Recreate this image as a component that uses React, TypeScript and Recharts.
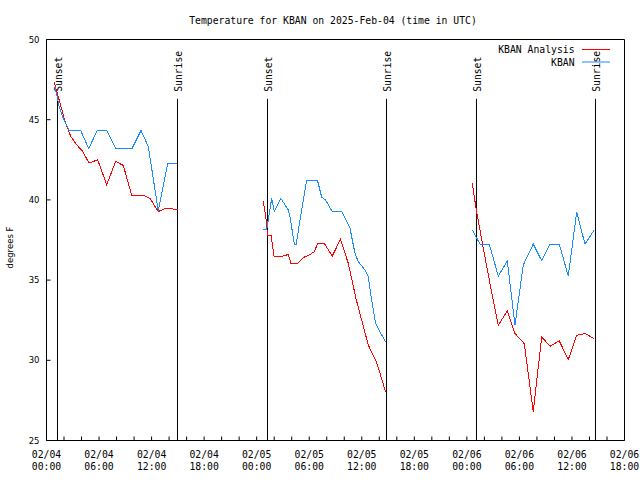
import React from 'react';
import { LineChart, Line, XAxis, YAxis, ReferenceLine, Legend } from 'recharts';

// ---- Data (hours since 02/04 00:00 UTC, temperature in degrees F) ----
const analysis1Hours = [0.891, 1.165, 1.541, 2.112, 2.763, 3.448, 4.133, 4.853, 5.846, 6.874, 7.901, 8.769, 9.728, 11.247, 11.818, 12.765, 13.336, 13.907, 14.958];
const analysis1Temps = [47.35, 46.77, 46.04, 44.9, 43.96, 43.44, 43.02, 42.29, 42.5, 40.94, 42.4, 42.15, 40.3, 40.25, 40.1, 39.27, 39.42, 39.48, 39.38];

const analysis2Hours = [24.755, 24.949, 25.143, 25.211, 25.634, 25.976, 27.038, 27.609, 27.917, 28.659, 29.322, 30.087, 30.601, 30.943, 31.72, 32.633, 33.569, 34.46, 35.339, 35.967, 36.744, 37.703, 38.274, 38.73];
const analysis2Temps = [39.9, 39.27, 38.54, 37.81, 37.81, 36.5, 36.5, 36.6, 36.04, 36.04, 36.4, 36.6, 36.77, 37.29, 37.29, 36.5, 37.55, 36.04, 33.85, 32.55, 30.95, 29.85, 28.85, 28.0];

const analysis3Hours = [48.618, 49.041, 49.874, 50.639, 51.587, 52.615, 53.494, 54.556, 55.583, 56.543, 57.49, 58.552, 59.58, 60.539, 61.487, 62.549];
const analysis3Temps = [41.08, 39.48, 36.98, 34.79, 32.19, 33.08, 31.67, 31.04, 26.8, 31.46, 30.875, 31.21, 30.04, 31.56, 31.67, 31.35];

const kban1Hours = [0.971, 1.427, 1.85, 2.603, 3.905, 4.818, 5.8, 6.874, 7.936, 9.763, 10.79, 11.624, 12.765, 13.839, 14.958];
const kban1Temps = [47.04, 45.88, 45.17, 44.33, 44.33, 43.2, 44.33, 44.33, 43.2, 43.2, 44.33, 43.33, 39.3, 42.29, 42.29];

const kban2Hours = [24.755, 25.143, 25.714, 26.01, 26.741, 27.609, 27.803, 28.294, 28.523, 28.945, 29.71, 30.943, 31.423, 31.857, 32.656, 33.741, 34.654, 35.225, 35.602, 36.367, 36.744, 37.132, 37.589, 38.079, 38.73];
const kban2Temps = [38.13, 38.13, 40.1, 39.27, 40.1, 39.38, 38.96, 37.25, 37.25, 38.75, 41.22, 41.22, 40.17, 40.0, 39.25, 39.25, 38.23, 36.67, 36.15, 35.63, 35.21, 33.75, 32.29, 31.77, 31.15];

const kban3Hours = [48.618, 49.498, 50.559, 51.587, 52.615, 53.494, 54.442, 55.583, 56.543, 57.49, 58.552, 59.58, 60.539, 61.487, 62.549];
const kban3Temps = [38.13, 37.25, 37.25, 35.25, 36.19, 32.19, 35.94, 37.25, 36.21, 37.25, 37.25, 35.25, 39.23, 37.25, 38.13];

const sunEventHours = [1.256, 14.958, 25.234, 38.822, 49.098, 62.686];
const sunEventNames = ['Sunset', 'Sunrise', 'Sunset', 'Sunrise', 'Sunset', 'Sunrise'];
const sunLineTop = 46.3;

const xTickHours = [0, 2, 4, 6, 8, 10, 12, 14, 16, 18, 20, 22, 24, 26, 28, 30, 32, 34, 36, 38, 40, 42, 44, 46, 48, 50, 52, 54, 56, 58, 60, 62, 64, 66];
const xLabelHours = [0, 6, 12, 18, 24, 30, 36, 42, 48, 54, 60, 66];
const xLabelDates = ['02/04', '02/04', '02/04', '02/04', '02/05', '02/05', '02/05', '02/05', '02/06', '02/06', '02/06', '02/06'];
const xLabelTimes = ['00:00', '06:00', '12:00', '18:00', '00:00', '06:00', '12:00', '18:00', '00:00', '06:00', '12:00', '18:00'];
const yTicks = [25, 30, 35, 40, 45, 50];

const legendNames = ['KBAN Analysis', 'KBAN'];
const legendColors = ['#ff0000', '#1a8cff'];
const titleText = 'Temperature for KBAN on 2025-Feb-04 (time in UTC)';
const yLabelText = 'degrees F';

const MONO = '"DejaVu Sans Mono", monospace';
const SANS = '"DejaVu Sans", sans-serif';

const toPoints = (hours: number[], temps: number[]) => hours.map((h, i) => ({ h, t: temps[i] }));

const analysisSegments = [
  toPoints(analysis1Hours, analysis1Temps),
  toPoints(analysis2Hours, analysis2Temps),
  toPoints(analysis3Hours, analysis3Temps),
];
const kbanSegments = [
  toPoints(kban1Hours, kban1Temps),
  toPoints(kban2Hours, kban2Temps),
  toPoints(kban3Hours, kban3Temps),
];

const XTick = (props: any) => {
  const { x, y, payload } = props;
  const idx = xLabelHours.indexOf(payload.value);
  return (
    <g>
      <line x1={x} y1={y} x2={x} y2={y - 4} stroke="#000" strokeWidth={1} />
      {idx >= 0 && (
        <text x={x} y={y + 17} textAnchor="middle" fontFamily={MONO} fontSize={9.75} fill="#000">
          <tspan x={x}>{xLabelDates[idx]}</tspan>
          <tspan x={x} dy={12}>{xLabelTimes[idx]}</tspan>
        </text>
      )}
    </g>
  );
};

const YTick = (props: any) => {
  const { x, y, payload } = props;
  return (
    <g>
      <line x1={x} y1={y} x2={x + 4} y2={y} stroke="#000" strokeWidth={1} />
      <text x={x - 7} y={y} dy="0.36em" textAnchor="end" fontFamily={SANS} fontSize={8.5} fill="#000">
        {payload.value}
      </text>
    </g>
  );
};

const sunLabel = (name: string) => (props: any) => {
  const vb = props.viewBox || {};
  const tx = vb.x + 5;
  const ty = vb.y - 7;
  return (
    <text
      x={tx}
      y={ty}
      transform={`rotate(-90 ${tx} ${ty})`}
      textAnchor="start"
      fontFamily={MONO}
      fontSize={9.75}
      fill="#000"
    >
      {name}
    </text>
  );
};

const renderOverlay = () => (
  <svg width={640} height={480} style={{ display: 'block' }}>
    <text x={333} y={23.5} textAnchor="middle" fontFamily={MONO} fontSize={9.75} fill="#000">
      {titleText}
    </text>
    <text
      x={13}
      y={247.5}
      transform="rotate(-90 13 247.5)"
      textAnchor="middle"
      fontFamily={SANS}
      fontSize={8.5}
      fill="#000"
    >
      {yLabelText}
    </text>
    {legendNames.map((name, i) => (
      <g key={name}>
        <text x={574.5} y={53 + i * 12.5} textAnchor="end" fontFamily={MONO} fontSize={9.75} fill="#000">
          {name}
        </text>
        <line x1={582} y1={49.5 + i * 12.5} x2={610} y2={49.5 + i * 12.5} stroke={legendColors[i]} strokeWidth={1} />
      </g>
    ))}
  </svg>
);

export default function App() {
  return (
    <div style={{ position: 'absolute', left: 0, top: 0, width: 640, height: 480, background: '#fff' }}>
      <LineChart
        width={640}
        height={480}
        margin={{ top: 39.5, right: 15.5, bottom: 0, left: 0 }}
      >
        <XAxis
          xAxisId="bottom"
          dataKey="h"
          type="number"
          domain={[0, 66]}
          ticks={xTickHours}
          interval={0}
          allowDataOverflow
          height={39.5}
          tickSize={0}
          tickMargin={0}
          tickLine={false}
          axisLine={{ stroke: '#000', strokeWidth: 1 }}
          tick={<XTick />}
        />
        <XAxis
          xAxisId="top"
          orientation="top"
          dataKey="h"
          type="number"
          domain={[0, 66]}
          ticks={xTickHours}
          interval={0}
          allowDataOverflow
          mirror
          tickSize={4}
          tick={false}
          tickLine={{ stroke: '#000', strokeWidth: 1 }}
          axisLine={{ stroke: '#000', strokeWidth: 1 }}
        />
        <YAxis
          yAxisId="left"
          type="number"
          domain={[25, 50]}
          ticks={yTicks}
          interval={0}
          allowDataOverflow
          width={46.5}
          tickSize={0}
          tickMargin={0}
          tickLine={false}
          axisLine={{ stroke: '#000', strokeWidth: 1 }}
          tick={<YTick />}
        />
        <YAxis
          yAxisId="right"
          orientation="right"
          type="number"
          domain={[25, 50]}
          ticks={yTicks}
          interval={0}
          allowDataOverflow
          mirror
          tickSize={4}
          tick={false}
          tickLine={{ stroke: '#000', strokeWidth: 1 }}
          axisLine={{ stroke: '#000', strokeWidth: 1 }}
        />
        {sunEventHours.map((h, i) => (
          <ReferenceLine
            key={`sun-${i}`}
            xAxisId="bottom"
            yAxisId="left"
            segment={[{ x: h, y: sunLineTop }, { x: h, y: 25 }]}
            stroke="#000"
            strokeWidth={1}
            ifOverflow="visible"
            label={{ content: sunLabel(sunEventNames[i]) } as any}
          />
        ))}
        {analysisSegments.map((seg, i) => (
          <Line
            key={`an-${i}`}
            xAxisId="bottom"
            yAxisId="left"
            data={seg}
            dataKey="t"
            name={legendNames[0]}
            stroke={legendColors[0]}
            strokeWidth={1}
            shapeRendering="crispEdges"
            dot={false}
            activeDot={false}
            isAnimationActive={false}
            type="linear"
            legendType="none"
          />
        ))}
        {kbanSegments.map((seg, i) => (
          <Line
            key={`kb-${i}`}
            xAxisId="bottom"
            yAxisId="left"
            data={seg}
            dataKey="t"
            name={legendNames[1]}
            stroke={legendColors[1]}
            strokeWidth={1}
            shapeRendering="crispEdges"
            dot={false}
            activeDot={false}
            isAnimationActive={false}
            type="linear"
            legendType="none"
          />
        ))}
        <Legend
          layout="horizontal"
          verticalAlign="middle"
          align="center"
          wrapperStyle={{ position: 'absolute', left: 0, top: 0, width: 640, height: 480, pointerEvents: 'none' }}
          content={renderOverlay}
        />
      </LineChart>
    </div>
  );
}
